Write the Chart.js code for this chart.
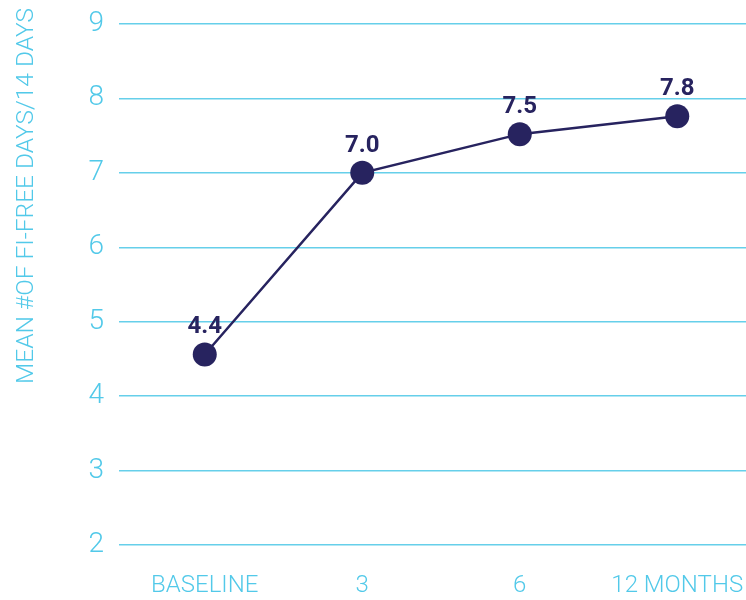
<!DOCTYPE html>
<html>
<head>
<meta charset="utf-8">
<script src="https://cdn.jsdelivr.net/npm/chart.js@4"></script>
<style>
  html, body { margin: 0; padding: 0; background: #ffffff; overflow: hidden; }
  #wrap { width: 746px; height: 600px; overflow: hidden; position: relative; }
  canvas { display: block; }
</style>
</head>
<body>
<div id="wrap"><canvas id="c" width="768" height="600"></canvas></div>
<script>
const categories = ['BASELINE', '3', '6', '12 MONTHS'];
const meanValues = [4.56, 7.0, 7.52, 7.76];
const valueLabels = ['4.4', '7.0', '7.5', '7.8'];
const yTicks = [2, 3, 4, 5, 6, 7, 8, 9];
const yTitle = 'MEAN #OF FI-FREE DAYS/14 DAYS';

const CYAN = '#52c9e9';
const GRID = '#66cfea';
const NAVY = '#27235f';

const labelPlugin = {
  id: 'valueLabels',
  afterDatasetsDraw(chart) {
    const ctx = chart.ctx;
    const meta = chart.getDatasetMeta(0);
    ctx.save();
    ctx.fillStyle = NAVY;
    ctx.font = 'bold 24px Roboto';
    ctx.textAlign = 'center';
    ctx.textBaseline = 'alphabetic';
    meta.data.forEach((pt, i) => {
      ctx.fillText(valueLabels[i], pt.x, pt.y - 21);
    });
    ctx.restore();
  }
};

const titlePlugin = {
  id: 'yTitle',
  afterDraw(chart) {
    const ctx = chart.ctx;
    ctx.save();
    ctx.translate(27, 196);
    ctx.rotate(-Math.PI / 2);
    ctx.fillStyle = CYAN;
    ctx.font = '300 24.5px Roboto';
    ctx.textAlign = 'center';
    ctx.textBaseline = 'middle';
    ctx.fillText(yTitle, 0, 0);
    ctx.restore();
  }
};

new Chart(document.getElementById('c'), {
  type: 'line',
  data: {
    labels: categories,
    datasets: [{
      data: meanValues,
      borderColor: NAVY,
      backgroundColor: NAVY,
      borderWidth: 2.5,
      pointRadius: 12,
      pointHoverRadius: 12,
      pointBackgroundColor: NAVY,
      pointBorderWidth: 0,
      tension: 0,
      fill: false
    }]
  },
  options: {
    responsive: false,
    animation: false,
    events: [],
    layout: { padding: { top: 24, right: 0, left: 0, bottom: 0 } },
    plugins: { legend: { display: false }, tooltip: { enabled: false } },
    scales: {
      x: {
        type: 'category',
        offset: true,
        grid: { display: false, drawTicks: false },
        border: { display: false },
        ticks: {
          color: CYAN,
          font: { family: 'Roboto', weight: 300, size: 24 },
          padding: 27,
          maxRotation: 0,
          autoSkip: false
        },
        afterFit(scale) { scale.height = 55; scale.paddingLeft = 0; scale.paddingRight = 0; }
      },
      y: {
        min: 2,
        max: 9,
        afterBuildTicks(scale) { scale.ticks = yTicks.map(v => ({ value: v })); },
        grid: { color: GRID, lineWidth: 1.5, tickLength: 7, drawTicks: true },
        border: { display: false },
        ticks: {
          color: CYAN,
          font: { family: 'Roboto', weight: 300, size: 28 },
          padding: 15
        },
        afterFit(scale) { scale.width = 126; scale.paddingTop = 0; scale.paddingBottom = 0; }
      }
    }
  },
  plugins: [labelPlugin, titlePlugin]
});
</script>
</body>
</html>
